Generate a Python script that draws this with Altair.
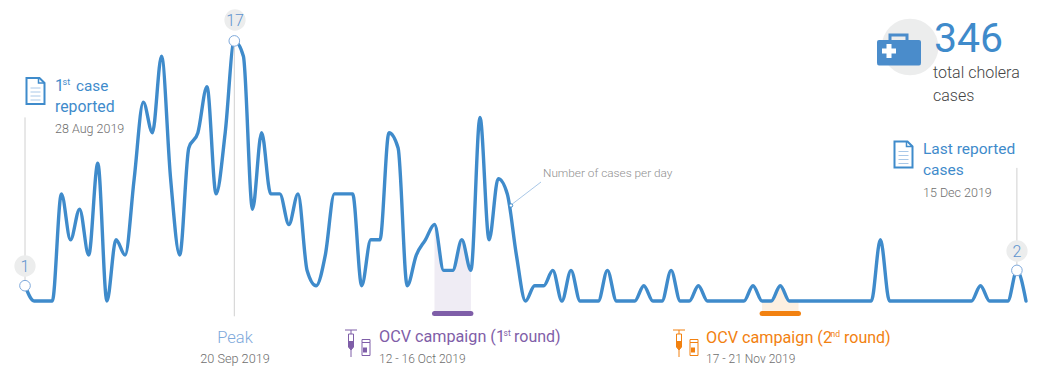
import altair as alt

cases = [1,0,0,0,7,4,6,3,9,0,4,3,8,13,11,16,8,3,10,11,14,7,11,17,16,6,11,7,7,5,7,2,1,3,7,7,7,1,4,4,11,10,1,3,4,5,2,2,4,2,12,4,8,7,3,0,1,1,2,0,2,0,0,0,2,0,0,0,1,0,0,2,0,0,1,0,0,0,0,0,1,0,0,1,0,0,0,0,0,0,0,0,0,0,4,0,0,0,0,0,0,0,0,0,0,1,0,0,0,2,0]
days = list(range(len(cases)))
BLUE = "#3f8bcb"; LIGHT = "#7ea9db"; GREY = "#6e6e6e"; PURPLE = "#7f5ea8"; ORANGE = "#f28110"; BADGE = "#eceded"
FONT = "Roboto"
CURVE = dict(interpolate="monotone")

rows = [{"d": d, "v": v} for d, v in zip(days, cases)]
XS = alt.Scale(domain=[-17/9.1, (1031-17)/9.1], nice=False, zero=False)
YS = alt.Scale(domain=[-70/15.3, 293/15.3], nice=False, zero=False)
X = alt.X("d:Q", axis=None, scale=XS)
Y = alt.Y("v:Q", axis=None, scale=YS)
data = alt.Data(values=rows)
one = alt.Data(values=[{}])
layers = []

def sub(a, b):
    return alt.Data(values=[dict(r, base=-0.7) for r in rows if a <= r["d"] <= b])

def shade(a, b, col):
    return alt.Chart(sub(a, b)).mark_area(color=col, opacity=1, **CURVE).encode(x=X, y=Y, y2="base:Q")

def text(s, x, y, size, col, align="left", weight=300):
    return alt.Chart(one).mark_text(font=FONT, fontSize=size, fontWeight=weight, color=col, align=align, baseline="alphabetic").encode(
        x=alt.value(x-8), y=alt.value(y-8), text=alt.value(s))

def icon(path, x, y, fill=None, stroke=None, sw=1):
    kw = {}
    if fill: kw["fill"] = fill; kw["fillOpacity"] = 1
    else: kw["fillOpacity"] = 0
    if stroke: kw["stroke"] = stroke; kw["strokeWidth"] = sw; kw["strokeOpacity"] = 1
    else: kw["strokeWidth"] = 0
    return alt.Chart(one).mark_point(shape=path, size=4, **kw).encode(x=alt.value(x-8), y=alt.value(y-8))

def rule(d, v1, v2, col="#d0d0d0", sw=1):
    return alt.Chart(alt.Data(values=[{"d": d, "a": v1, "b": v2}])).mark_rule(color=col, strokeWidth=sw).encode(
        x=alt.X("d:Q", axis=None, scale=XS), y=alt.Y("a:Q", axis=None, scale=YS), y2="b:Q")

def dot(d, v, r, col="white", stroke=LIGHT, sw=1):
    return alt.Chart(alt.Data(values=[{"d": d, "v": v}])).mark_circle(size=3.1416*r*r, fill=col, fillOpacity=1, opacity=1, stroke=stroke, strokeWidth=sw).encode(x=X, y=Y)

def bar(a, b, col):
    return alt.Chart(alt.Data(values=[{"a": a, "b": b, "v": -0.82}])).mark_rule(color=col, strokeWidth=5, strokeCap="round").encode(
        x=alt.X("a:Q", axis=None, scale=XS), x2="b:Q", y=alt.Y("v:Q", axis=None, scale=YS))

DOC = "M-9,-13 L4,-13 L9,-8 L9,13 L-9,13 Z"
DOCFOLD = "M3,-13 L3,-8 L9,-8"
DOCLINES = "M-5,-3 L5,-3 M-5,1 L5,1 M-5,5 L5,5 M-5,9 L5,9"
def doc(x, y):
    return [icon(DOC, x, y, stroke=BLUE, sw=2), icon(DOCFOLD, x, y, stroke=BLUE, sw=1.5), icon(DOCLINES, x, y, stroke="#a9c8e8", sw=1)]

SYR = "M-6,-13 L6,-13 M0,-13 L0,-9 M-2.5,-9 L2.5,-9 L2.5,4 L0,7 L-2.5,4 Z M0,7 L0,14"
SYRFILL = "M-2.5,-2 L2.5,-2 L2.5,4 L0,7 L-2.5,4 Z"
BOT = "M-4,-8 L4,-8 L4,-5 L-4,-5 Z M-4,-5 L-4,8 L4,8 L4,-5"
BOTFILL = "M-3,0 L1,0 L1,5 L-3,5 Z"
def vaccine(x, col):
    return [icon(SYR, x, 343, stroke=col, sw=1), icon(SYRFILL, x, 343, fill=col),
            icon(BOT, x+15, 347.5, stroke=col, sw=1), icon(BOTFILL, x+15, 347.5, fill=col)]

CASE = "M-20,-11 Q-22,-11 -22,-9 L-22,12 Q-22,14.5 -20,14.5 L20,14.5 Q22,14.5 22,12 L22,-9 Q22,-11 20,-11 Z"
HANDLE = "M-9,-11 L-9,-16 L8,-16 L8,-11"
PLUS = "M-2.5,-7 L2.5,-7 L2.5,-2.5 L7,-2.5 L7,2.5 L2.5,2.5 L2.5,7 L-2.5,7 L-2.5,2.5 L-7,2.5 L-7,-2.5 L-2.5,-2.5 Z"

layers += [shade(45, 49, "#efecf4"), shade(81, 85, "#fdf0e1"), bar(45, 49, PURPLE), bar(81, 85, ORANGE)]
layers += [rule(0, 1.0, 12), rule(23, 17, -1), rule(109, 2, 8.7)]
layers += [alt.Chart(data).mark_line(color=BLUE, strokeWidth=3.4, strokeCap="round", strokeJoin="round", **CURVE).encode(x=X, y=Y)]
# callout
layers += [alt.Chart(one).mark_rule(color="#a9c8e8", strokeWidth=1).encode(x=alt.value(541-8), x2=alt.value(511-8), y=alt.value(182-8), y2=alt.value(205-8))]
layers += [alt.Chart(one).mark_point(shape="circle", size=12, fill="white", fillOpacity=1, stroke=BLUE, strokeWidth=1).encode(x=alt.value(511-8), y=alt.value(205.5-8))]
# badges
for x, y, s in [(25, 266, "1"), (235, 20, "17"), (1017, 251, "2")]:
    layers += [alt.Chart(one).mark_circle(size=3.1416*144, color=BADGE, opacity=1).encode(x=alt.value(x-8), y=alt.value(y-8)),
               text(s, x, y+6, 16, "#5f94cf", "center")]
layers += [dot(0, 1, 6), dot(23, 17, 6), dot(109, 2, 6)]
layers += doc(35.5, 91) + doc(903.5, 154.5)
layers += [text("1", 55, 91, 16, BLUE, weight=400), text("st", 62.5, 85, 9, BLUE, weight=400), text("case", 76, 91, 15.3, BLUE, weight=400),
           text("reported", 55, 112, 15.8, BLUE, weight=400), text("28 Aug 2019", 55, 133, 12.5, GREY),
           text("Peak", 235, 343, 16.5, LIGHT, "center"), text("20 Sep 2019", 235, 363, 12.7, GREY, "center"),
           text("OCV campaign (1", 379, 342, 16.2, PURPLE, weight=400), text("st", 503.5, 336, 8.5, PURPLE, weight=400), text("round)", 514, 342, 16, PURPLE, weight=400),
           text("12 - 16 Oct 2019", 379, 363, 12, GREY),
           text("OCV campaign (2", 706, 343, 16.2, ORANGE, weight=400), text("nd", 830.5, 337, 8.5, ORANGE, weight=400), text("round)", 844, 343, 16, ORANGE, weight=400),
           text("17 - 21 Nov 2019", 706, 363, 12, GREY),
           text("Number of cases per day", 543, 177, 11.8, "#8f8f8f"),
           text("Last reported", 923, 154, 15.5, BLUE, weight=400), text("cases", 923, 175, 15.5, BLUE, weight=400), text("15 Dec 2019", 923, 197, 12.5, GREY)]
layers += vaccine(351, PURPLE) + vaccine(679, ORANGE)
layers += [alt.Chart(one).mark_circle(size=3.1416*32*32, color=BADGE, opacity=1).encode(x=alt.value(910-8), y=alt.value(47-8)),
           icon(HANDLE, 899, 51, stroke="#4a8ccb", sw=3), icon(CASE, 899, 51, fill="#4a8ccb"), icon(PLUS, 889, 51, fill="white"),
           text("346", 934, 52, 41, BLUE, weight=400), text("total cholera", 933, 78, 16, "#444444"), text("cases", 933, 101, 16, "#444444")]

chart = alt.layer(*layers).properties(width=1031, height=363, padding=0, autosize=alt.AutoSizeParams(type="none")).configure_view(stroke=None)
chart.save("out.html", embed_options={"renderer": "svg", "actions": False})
